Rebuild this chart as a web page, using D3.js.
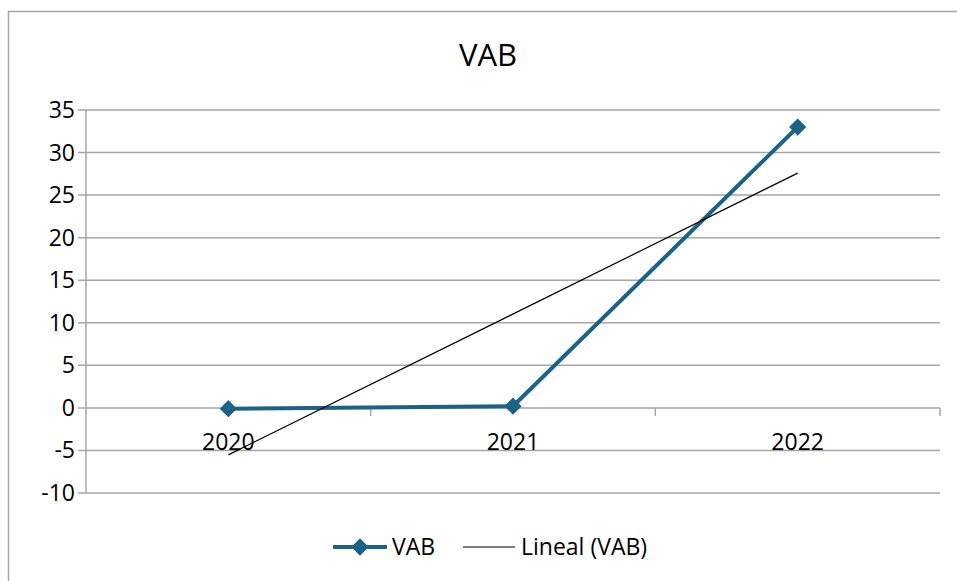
<!DOCTYPE html>
<html>
<head>
<meta charset="utf-8">
<script src="https://cdn.jsdelivr.net/npm/d3@7"></script>
<style>
  body { margin: 0; background: #fff; }
  text { font-family: "Open Sans", "Noto Sans", sans-serif; fill: #000; }
</style>
</head>
<body>
<div id="chart"></div>
<script>
// data
var years = ["2020", "2021", "2022"];
var vab = [-0.1, 0.2, 33];
var yTicks = [-10, -5, 0, 5, 10, 15, 20, 25, 30, 35];
var title = "VAB";
var legendNames = ["VAB", "Lineal (VAB)"];

var W = 957, H = 581;
var margin = { top: 110, right: 17, bottom: 88, left: 86 };
var blue = "#1b6286", grid = "#a6a6a6";

var svg = d3.select("#chart")
    .append("svg")
    .attr("width", W)
    .attr("height", H);

// chart area border (only top and left fall inside the picture)
svg.append("rect")
    .attr("x", 8.5).attr("y", 11.5)
    .attr("width", 1200).attr("height", 1200)
    .attr("fill", "none")
    .attr("stroke", grid)
    .attr("stroke-width", 1.5);

var x = d3.scaleBand()
    .domain(years)
    .range([margin.left, W - margin.right]);
var y = d3.scaleLinear()
    .domain([-10, 35])
    .range([H - margin.bottom, margin.top]);
var cx = function(d) { return x(d) + x.bandwidth() / 2; };

// horizontal gridlines
svg.append("g")
    .selectAll("line")
    .data(yTicks)
    .enter()
    .append("line")
    .attr("x1", margin.left - 8)
    .attr("x2", W - margin.right)
    .attr("y1", function(d) { return y(d); })
    .attr("y2", function(d) { return y(d); })
    .attr("stroke", grid)
    .attr("stroke-width", 1.5);

// y axis
svg.append("line")
    .attr("x1", margin.left).attr("x2", margin.left)
    .attr("y1", y(35)).attr("y2", y(-10))
    .attr("stroke", grid)
    .attr("stroke-width", 1.5);

svg.append("g")
    .selectAll("text")
    .data(yTicks)
    .enter()
    .append("text")
    .attr("x", margin.left - 11)
    .attr("y", function(d) { return y(d) + 8; })
    .attr("text-anchor", "end")
    .style("font-size", "23px")
    .text(function(d) { return d; });

// x axis on zero line with tick marks between categories
svg.append("g")
    .selectAll("line")
    .data(years)
    .enter()
    .append("line")
    .attr("x1", function(d) { return x(d) + x.bandwidth(); })
    .attr("x2", function(d) { return x(d) + x.bandwidth(); })
    .attr("y1", y(0))
    .attr("y2", y(0) + 8)
    .attr("stroke", grid)
    .attr("stroke-width", 1.5);

svg.append("g")
    .selectAll("text")
    .data(years)
    .enter()
    .append("text")
    .attr("x", cx)
    .attr("y", y(0) + 42)
    .attr("text-anchor", "middle")
    .style("font-size", "23px")
    .text(function(d) { return d; });

// series line
var pts = years.map(function(d, i) { return { year: d, v: vab[i] }; });
svg.append("path")
    .datum(pts)
    .attr("d", d3.line()
        .x(function(d) { return cx(d.year); })
        .y(function(d) { return y(d.v); }))
    .attr("fill", "none")
    .attr("stroke", blue)
    .attr("stroke-width", 4);

// linear trendline (least squares on the series)
var n = vab.length, mx = (n + 1) / 2, my = d3.mean(vab);
var sxy = 0, sxx = 0;
vab.forEach(function(v, i) { sxy += (i + 1 - mx) * (v - my); sxx += (i + 1 - mx) * (i + 1 - mx); });
var slope = sxy / sxx, icpt = my - slope * mx;
svg.append("line")
    .attr("x1", cx(years[0])).attr("y1", y(icpt + slope * 1))
    .attr("x2", cx(years[n - 1])).attr("y2", y(icpt + slope * n))
    .attr("stroke", "#000")
    .attr("stroke-width", 1.2);

// diamond markers
var diamond = d3.symbol().type(d3.symbolDiamond2).size(190);
svg.append("g")
    .selectAll("path")
    .data(pts)
    .enter()
    .append("path")
    .attr("d", diamond)
    .attr("transform", function(d) { return "translate(" + cx(d.year) + "," + y(d.v) + ")"; })
    .attr("fill", blue);

// title
svg.append("text")
    .attr("x", 488)
    .attr("y", 66)
    .attr("text-anchor", "middle")
    .style("font-size", "31px")
    .text(title);

// legend
var lg = svg.append("g").attr("transform", "translate(0,547)");
lg.append("line")
    .attr("x1", 333).attr("x2", 387)
    .attr("stroke", blue).attr("stroke-width", 4);
lg.append("path")
    .attr("d", diamond)
    .attr("transform", "translate(360,0)")
    .attr("fill", blue);
lg.append("text")
    .attr("x", 392).attr("y", 8)
    .style("font-size", "23px")
    .text(legendNames[0]);
lg.append("line")
    .attr("x1", 463).attr("x2", 515)
    .attr("stroke", "#000").attr("stroke-width", 1.2);
lg.append("text")
    .attr("x", 521).attr("y", 8)
    .style("font-size", "23px")
    .text(legendNames[1]);
</script>
</body>
</html>
